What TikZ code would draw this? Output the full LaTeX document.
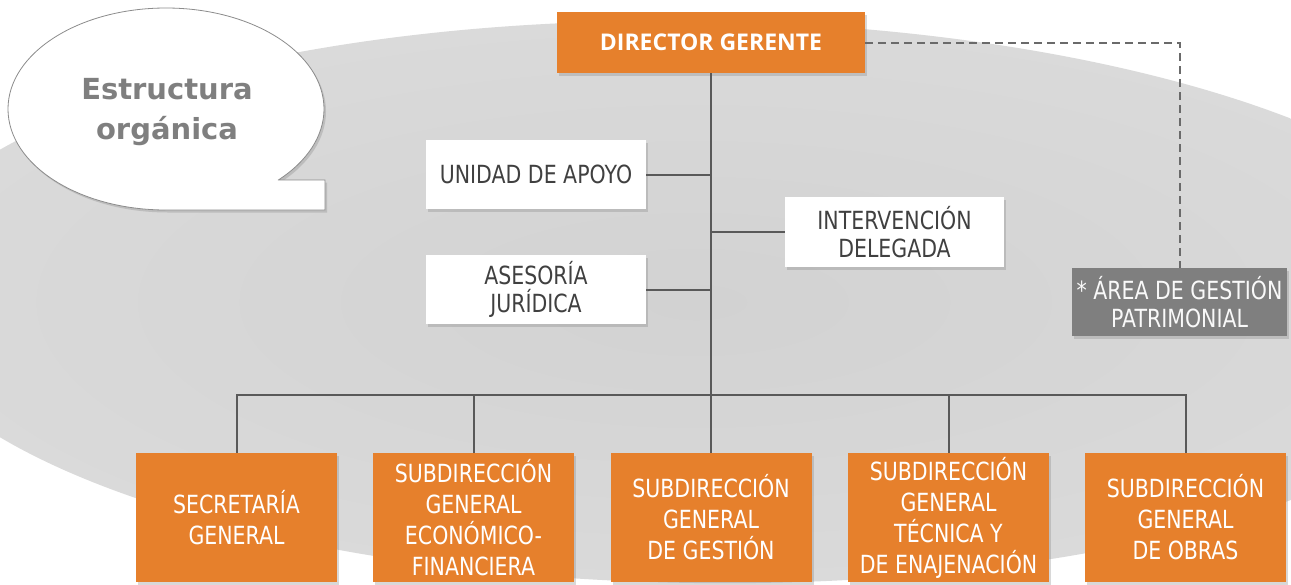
\documentclass[tikz,border=0pt]{standalone}
\usepackage{fontspec}
\setmainfont{DejaVu Sans}[FakeStretch=0.82]
\newfontfamily\headfont{Open Sans}
\newfontfamily\titlefont{DejaVu Sans}
\usetikzlibrary{shadows}
\definecolor{orangec}{HTML}{E6802C}
\definecolor{linec}{HTML}{595959}
\definecolor{textc}{HTML}{404040}
\definecolor{areac}{HTML}{7F7F7F}
\definecolor{titlec}{HTML}{7F7F7F}
\definecolor{bgin}{HTML}{D2D2D2}
\definecolor{bgout}{HTML}{E6E6E6}
\pgfdeclareradialshading{bgshade}{\pgfpoint{0bp}{0bp}}{color(0bp)=(bgin); color(25bp)=(bgin!60!bgout); color(50bp)=(bgout)}
\tikzset{
  shad/.style={drop shadow={opacity=0.3, shadow xshift=2pt, shadow yshift=-2.5pt}},
  orangebox/.style={shad, fill=orangec, text=white, minimum width=201pt, minimum height=129pt,
    inner sep=0pt, align=center, font=\fontsize{25}{31}\selectfont},
  whitebox/.style={shad, fill=white, text=textc, inner sep=0pt, align=center,
    font=\fontsize{25}{28}\selectfont},
  link/.style={draw=linec, line width=2pt},
  dashlink/.style={draw=linec!90!white, line width=2pt, dash pattern=on 8pt off 5pt}
}
\begin{document}
\begin{tikzpicture}[x=1pt,y=-1pt]
\useasboundingbox (0,0) rectangle (1291,584);
\begin{scope}
\clip (0,0) rectangle (1291,584);
\fill[white] (0,0) rectangle (1291,584);
\shade[shading=bgshade, rotate around={-0.8:(696,302)}] (696,302) ellipse [x radius=810, y radius=281];
\end{scope}
% speech bubble
\filldraw[draw=gray!90, line width=0.8pt, fill=white, shad]
  (278,180) -- (325,180) -- (325,210) -- (166,210)
  arc[start angle=90, end angle=404.7, x radius=158, y radius=101] -- cycle;
\node[text=titlec, align=center, font=\titlefont\bfseries\fontsize{29}{40}\selectfont] (title) at (167,112) {Estructura\\orgánica};
% nodes
\node[shad, fill=orangec, text=white, minimum width=308pt, minimum height=61pt, inner sep=0pt,
  font=\headfont\bfseries\fontsize{23}{26}\selectfont] (dir) at (711,42.5) {DIRECTOR GERENTE};
\node[whitebox, minimum width=220pt, minimum height=69pt] (unidad) at (536,174.5) {UNIDAD DE APOYO};
\node[whitebox, minimum width=220pt, minimum height=69pt] (asesoria) at (536,289.5) {ASESORÍA\\JURÍDICA};
\node[whitebox, minimum width=219pt, minimum height=70pt] (interv) at (894.5,232) {INTERVENCIÓN\\DELEGADA};
\node[shad, fill=areac, text=white!95!gray, inner sep=0pt, align=center, minimum width=215pt, minimum height=68pt,
  font=\fontsize{25}{28}\selectfont] (area) at (1179.5,302) {* ÁREA DE GESTIÓN\\PATRIMONIAL};
\node[orangebox] (b1) at (236.5,517.5) {SECRETARÍA\\GENERAL};
\node[orangebox] (b2) at (473.5,517.5) {SUBDIRECCIÓN\\GENERAL\\ECONÓMICO-\\FINANCIERA};
\node[orangebox] (b3) at (711,517.5) {SUBDIRECCIÓN\\GENERAL\\DE GESTIÓN};
\node[orangebox] (b4) at (948.5,517.5) {SUBDIRECCIÓN\\GENERAL\\TÉCNICA Y\\DE ENAJENACIÓN};
\node[orangebox] (b5) at (1185.5,517.5) {SUBDIRECCIÓN\\GENERAL\\DE OBRAS};
% connectors
\coordinate (bus) at (711,395);
\draw[link] (dir.south) -- (bus);
\foreach \b in {b1,b2,b3,b4,b5} {\draw[link] (bus) -| (\b.north);}
\draw[link] (unidad.east) -- (unidad.east -| dir.south);
\draw[link] (asesoria.east) -- (asesoria.east -| dir.south);
\draw[link] (interv.west) -- (interv.west -| dir.south);
\draw[dashlink] (dir.east) -| (area.north);
\end{tikzpicture}
\end{document}
